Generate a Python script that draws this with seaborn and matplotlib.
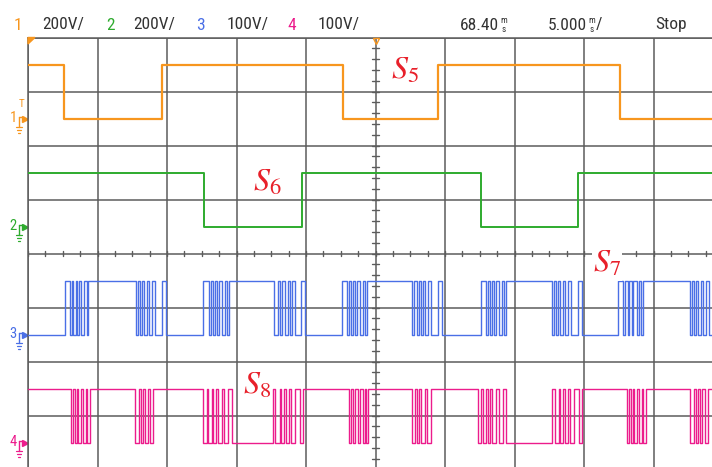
import numpy as np
import pandas as pd
import matplotlib
matplotlib.use("Agg")
import matplotlib.pyplot as plt
import seaborn as sns
from matplotlib import font_manager

# ---------------- data (time in ms, 5 ms/div) ----------------
channel_ids = ["1", "2", "3", "4"]
volts_per_div = [200, 200, 100, 100]
scale_labels = ["200V/", "200V/", "100V/", "100V/"]
ground_div = [6.5, 4.5, 2.5, 0.5]
amplitude_v = [200, 200, 100, 100]
start_high = [True, True, False, True]
signal_names = [r"$\mathit{S}_{\mathit{5}}$", r"$\mathit{S}_{\mathit{6}}$",
                r"$\mathit{S}_{\mathit{7}}$", r"$\mathit{S}_{\mathit{8}}$"]
colors = ["#f7961e", "#2eab2e", "#4a6fe6", "#ec1c8c"]

s5_edges_ms = [2.61, 9.64, 22.66, 29.50, 42.59]
s6_edges_ms = [12.66, 19.71, 32.59, 39.57]
s7_edges_ms = [
    2.66, 3.02, 3.14, 3.26, 3.43, 3.55, 3.67, 3.81, 4.05, 4.22, 4.34,
    7.77, 7.94, 8.08, 8.22, 8.37, 8.54, 8.70, 8.90, 9.14, 9.62, 9.93,
    12.61, 13.02, 13.16, 13.33, 13.45, 13.62, 13.76, 13.98, 14.17, 14.34, 14.46,
    17.72, 17.96, 18.13, 18.29, 18.49, 18.68, 18.85, 19.01, 19.21, 19.64, 19.93,
    22.59, 22.98, 23.12, 23.27, 23.40, 23.56, 23.70, 23.90, 24.10, 24.28, 24.42,
    27.63, 27.80, 27.95, 28.10, 28.24, 28.42, 28.58, 28.78, 29.02, 29.50, 29.81,
    32.59, 32.96, 33.10, 33.25, 33.38, 33.55, 33.68, 33.90, 34.08, 34.27, 34.40,
    37.70, 37.86, 38.01, 38.16, 38.30, 38.47, 38.63, 38.83, 39.07, 39.55, 39.85,
    42.45, 42.84, 42.98, 43.13, 43.26, 43.42, 43.56, 43.78, 43.96, 44.13, 44.27,
    47.63, 47.79, 47.94, 48.09, 48.23, 48.41, 48.57, 48.77, 49.01, 49.45,
]
s8_edges_ms = [
    3.09, 3.26, 3.38, 3.50, 3.62, 3.79, 3.98, 4.15, 4.24, 4.46,
    7.70, 7.99, 8.13, 8.27, 8.42, 8.60, 8.78, 8.96,
    12.61, 12.86, 12.97, 13.22, 13.34, 13.50, 13.65, 13.93, 14.12, 14.41, 14.65,
    17.63, 17.79, 18.11, 18.22, 18.42, 18.58, 18.76, 18.90, 19.19, 19.55, 19.78,
    23.07, 23.26, 23.40, 23.55, 23.74, 23.91, 24.10, 24.25, 24.35, 24.48,
    27.63, 27.82, 27.98, 28.13, 28.29, 28.54, 28.72, 29.01,
    32.37, 32.60, 32.72, 32.96, 33.08, 33.25, 33.40, 33.68, 33.87, 34.16, 34.41,
    37.70, 37.88, 38.18, 38.30, 38.48, 38.66, 38.82, 38.98, 39.26, 39.62, 39.85,
    43.09, 43.27, 43.37, 43.50, 43.63, 43.80, 43.97, 44.15, 44.26, 44.47,
    47.63, 47.90, 48.05, 48.20, 48.34, 48.52, 48.70, 48.90,
]
edges_all = [s5_edges_ms, s6_edges_ms, s7_edges_ms, s8_edges_ms]
label_pos = [(27.12, 7.40), (17.19, 5.32), (41.65, 3.81), (16.47, 1.55)]
t_end = 50.0

# ---------------- figure ----------------
sns.set_style("white")
plt.rcParams["mathtext.fontset"] = "stix"

# pick a narrow font if one is installed
installed = {f.name for f in font_manager.fontManager.ttflist}
narrow = None
for cand in ["Liberation Sans Narrow", "Roboto Condensed", "Open Sans Condensed",
             "DejaVu Sans Condensed"]:
    if cand in installed:
        narrow = cand
        break
if narrow is None:
    hdr_font = ["Roboto", "DejaVu Sans"]
    hdr_size = 11.5
else:
    hdr_font = [narrow, "DejaVu Sans"]
    hdr_size = 12.5
hdr_stretch = "condensed"

W, H = 712, 467
fig = plt.figure(figsize=(W / 100, H / 100), dpi=100)
x0_px, div_w, y_top, div_h = 28, 69.5, 37.5, 54.0
ax = fig.add_axes([x0_px / W, (H - (y_top + 8 * div_h)) / H, 10 * div_w / W, 8 * div_h / H])
ax.set_xlim(0, 50)
ax.set_ylim(0, 8)
grid_c = "#5c5c5c"
ax.set_xticks(np.arange(0, 51, 5))
ax.set_yticks(np.arange(0, 9, 1))
ax.tick_params(length=0, labelbottom=False, labelleft=False)
ax.grid(True, color=grid_c, lw=1.1)
ax.set_axisbelow(True)
for side, sp in ax.spines.items():
    sp.set_color(grid_c)
    sp.set_linewidth(1.1)

# center line minor ticks
for k in range(40):
    xt = k * 1.25
    ax.plot([xt, xt], [3.955, 4.045], color=grid_c, lw=1.0, zorder=1)
for k in range(40):
    yt = k * 0.2
    ax.plot([24.78, 25.22], [yt, yt], color=grid_c, lw=1.0, zorder=1)

# traces
lws = [1.6, 1.4, 1.0, 1.0]
for i, edges in enumerate(edges_all):
    t = [0.0] + list(edges) + [t_end]
    state = start_high[i]
    lev = []
    for _ in range(len(edges) + 1):
        lev.append(amplitude_v[i] if state else 0)
        state = not state
    lev.append(lev[-1])
    df = pd.DataFrame({"t": t, "v": lev})
    df["div"] = ground_div[i] + df["v"] / volts_per_div[i]
    sns.lineplot(data=df, x="t", y="div", drawstyle="steps-post", estimator=None,
                 sort=False, color=colors[i], lw=lws[i], ax=ax, zorder=3)
ax.set_xlabel("")
ax.set_ylabel("")

# signal labels
for i, (lx, ly) in enumerate(label_pos):
    ax.text(lx, ly, signal_names[i], color="#e8202a", fontsize=23, ha="center", va="center",
            zorder=6, bbox=dict(facecolor="white", edgecolor="none", pad=1.0))

# ground markers at left
for i, g in enumerate(ground_div):
    c = colors[i]
    ax.text(-1.08, g, channel_ids[i], color=c, fontsize=10.5, ha="center", va="center",
            family=hdr_font, clip_on=False)
    ax.plot([-0.62, -0.62], [g + 0.02, g - 0.15], color=c, lw=1.0, clip_on=False)
    ax.plot([-0.62, -0.3], [g + 0.02, g + 0.02], color=c, lw=1.0, clip_on=False)
    for j, w in enumerate([0.22, 0.15, 0.08]):
        yy = g - 0.16 - j * 0.05
        ax.plot([-0.62 - w, -0.62 + w], [yy, yy], color=c, lw=0.9, clip_on=False)
    ax.plot([-0.22], [g], marker=">", color=c, ms=5, clip_on=False)
ax.text(-0.45, 6.77, "T", color=colors[0], fontsize=8, ha="center", va="center",
        family=hdr_font, clip_on=False)

# trigger markers
ax.fill([0, 0.5, 0], [8, 8, 7.88], color=colors[0], clip_on=False, zorder=5)
ax.plot([25], [7.93], marker="v", color=colors[0], ms=5, mfc="none", clip_on=False, zorder=5)

# header
yh = 1 - 25 / H
def ht(xp, s, c="#333333", size=None, ha="left", yp=None):
    fig.text(xp / W, (1 - yp / H) if yp is not None else yh, s, color=c,
             fontsize=size or hdr_size, family=hdr_font, fontstretch=hdr_stretch,
             ha=ha, va="center")

ch_x = [14, 106, 196, 287]
sc_x = [42, 133, 227, 318]
for i in range(4):
    ht(ch_x[i], channel_ids[i], c=colors[i])
    ht(sc_x[i], scale_labels[i])
ht(499, "68.40", ha="right")
ht(504, "m", size=6.5, ha="center", yp=20.5)
ht(504, "s", size=6.5, ha="center", yp=29.5)
ht(587, "5.000", ha="right")
ht(592, "m", size=6.5, ha="center", yp=20.5)
ht(592, "s", size=6.5, ha="center", yp=29.5)
ht(596, "/")
ht(655, "Stop")

fig.savefig("out.png", dpi=100, facecolor="white")
